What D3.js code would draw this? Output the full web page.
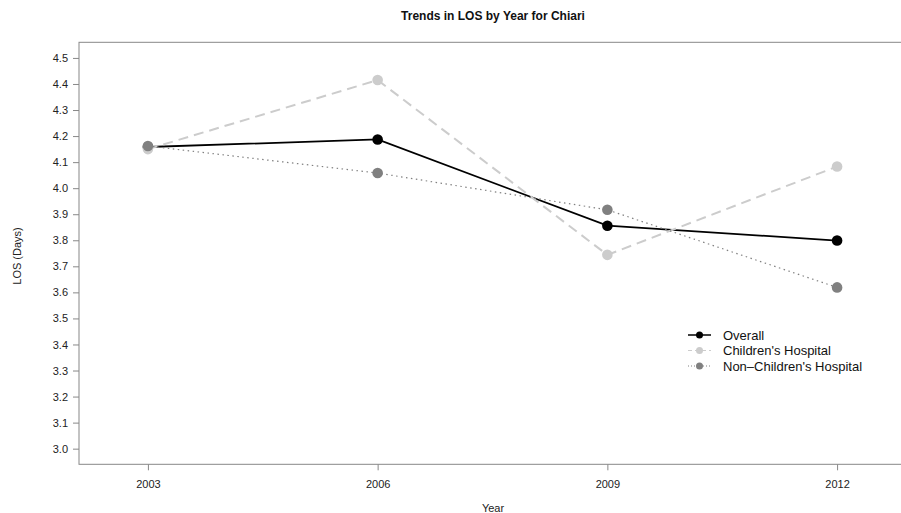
<!DOCTYPE html>
<html><head><meta charset="utf-8">
<script src="https://cdn.jsdelivr.net/npm/d3@7"></script>
<style>body{margin:0;background:#fff;} svg{display:block;font-family:"Liberation Sans",Arial,sans-serif;}</style>
</head><body>
<svg id="c" width="901" height="513"></svg>
<script>
const years = [2003, 2006, 2009, 2012];
const overall = [4.158, 4.187, 3.856, 3.799];
const childrens = [4.150, 4.415, 3.744, 4.083];
const nonChildrens = [4.162, 4.058, 3.917, 3.619];
const yTicks = [3.0,3.1,3.2,3.3,3.4,3.5,3.6,3.7,3.8,3.9,4.0,4.1,4.2,4.3,4.4,4.5];
const seriesNames = ["Overall", "Children's Hospital", "Non\u2013Children's Hospital"];

const svg = d3.select("#c");
const L = 79, R = 906, T = 42.3, B = 464.3;
const x = d3.scaleLinear().domain([2002.1, 2012.9]).range([L, R]);
const y = d3.scaleLinear().domain([2.94, 4.56]).range([B, T]);

const axisCol = "#888";
svg.append("rect").attr("x", L).attr("y", T).attr("width", R - L).attr("height", B - T)
  .attr("fill", "none").attr("stroke", axisCol).attr("stroke-width", 1);

const yAxis = d3.axisLeft(y).tickValues(yTicks).tickFormat(d3.format(".1f")).tickSize(6).tickPadding(5);
const gy = svg.append("g").attr("transform", `translate(${L},0)`).call(yAxis);
gy.select(".domain").remove();
gy.selectAll("line").attr("stroke", axisCol);
gy.selectAll("text").attr("fill", "#222").style("font-size", "11px");

const xAxis = d3.axisBottom(x).tickValues(years).tickFormat(d3.format("d")).tickSize(6).tickPadding(10);
const gx = svg.append("g").attr("transform", `translate(0,${B})`).call(xAxis);
gx.select(".domain").remove();
gx.selectAll("line").attr("stroke", axisCol);
gx.selectAll("text").attr("fill", "#222").style("font-size", "11px");

svg.append("text").attr("x", 493).attr("y", 20).attr("text-anchor", "middle")
  .style("font-size", "12px").style("font-weight", "bold").attr("fill", "#111").text("Trends in LOS by Year for Chiari");
svg.append("text").attr("x", 493).attr("y", 512).attr("text-anchor", "middle")
  .style("font-size", "11px").attr("fill", "#222").text("Year");
svg.append("text").attr("transform", "translate(21,256) rotate(-90)").attr("text-anchor", "middle")
  .style("font-size", "11px").attr("fill", "#222").text("LOS (Days)");

const styles = [
  {data: overall, color: "#000000", width: 1.8, dash: null},
  {data: childrens, color: "#cccccc", width: 2, dash: "10,6"},
  {data: nonChildrens, color: "#808080", width: 1.2, dash: "1.5,3.5"}
];
const line = d3.line().x((d, i) => x(years[i])).y(d => y(d));
styles.forEach(s => {
  svg.append("path").datum(s.data).attr("d", line).attr("fill", "none")
    .attr("stroke", s.color).attr("stroke-width", s.width)
    .attr("stroke-dasharray", s.dash);
  svg.selectAll(null).data(s.data).enter().append("circle")
    .attr("cx", (d, i) => x(years[i])).attr("cy", d => y(d)).attr("r", 5.3).attr("fill", s.color);
});

// legend
const lg = svg.append("g");
seriesNames.forEach((n, i) => {
  const s = styles[i];
  const yy = 335 + i * 15.5;
  lg.append("line").attr("x1", 688).attr("x2", 711).attr("y1", yy).attr("y2", yy)
    .attr("stroke", s.color).attr("stroke-width", i === 0 ? 1.5 : 1)
    .attr("stroke-dasharray", i === 1 ? "4,3" : (i === 2 ? "1,2" : null));
  lg.append("circle").attr("cx", 699.5).attr("cy", yy).attr("r", 3.5).attr("fill", s.color);
  lg.append("text").attr("x", 723).attr("y", yy + 4.5).style("font-size", "13px").attr("fill", "#111").text(n);
});
</script>
</body></html>
